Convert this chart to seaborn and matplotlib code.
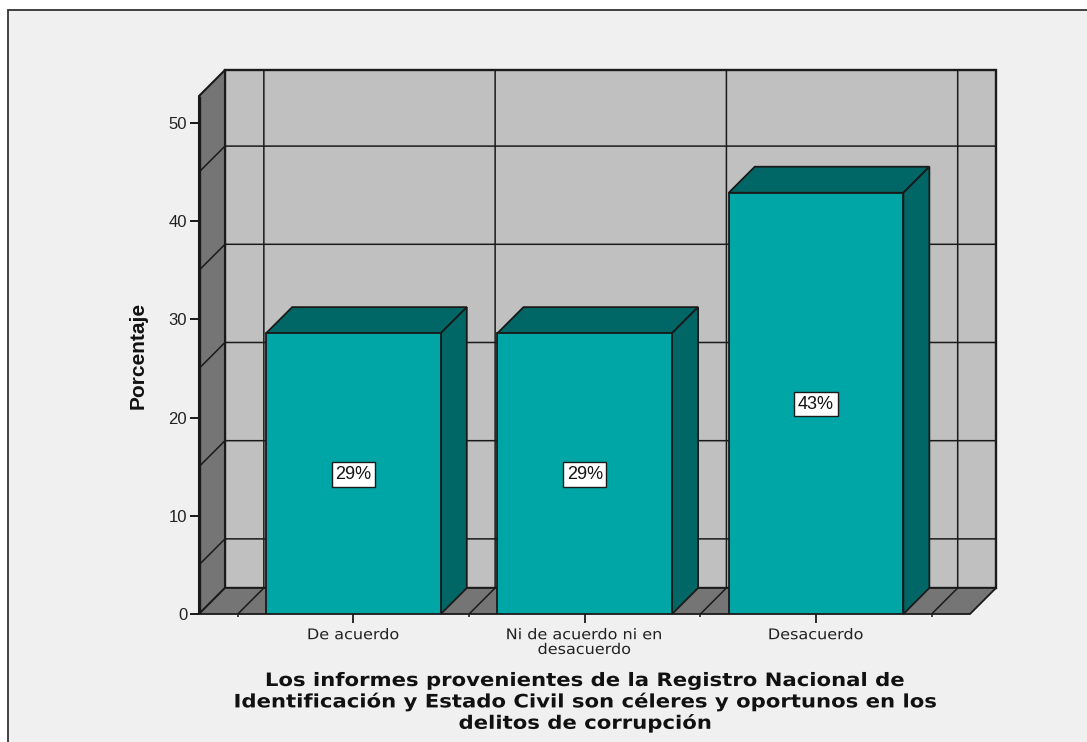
import pandas as pd
import matplotlib.pyplot as plt
import seaborn as sns
from matplotlib.patches import Polygon, Rectangle
from matplotlib.patheffects import AbstractPathEffect
from matplotlib.transforms import Affine2D

categorias = ["De acuerdo", "Ni de acuerdo ni en\ndesacuerdo", "Desacuerdo"]
porcentajes = [28.6, 28.6, 42.9]
y_ticks = [0, 10, 20, 30, 40, 50]
y_grid = [5, 15, 25, 35, 45]
x_grid = [-0.5, 0.5, 1.5, 2.5]
titulo_x = ("Los informes provenientes de la Registro Nacional de\n"
            "Identificación y Estado Civil son céleres y oportunos en los\n"
            "delitos de corrupción")

W, H = 1087, 742
FONDO = "#f0f0f0"
PARED = "#c0c0c0"
LADO = "#757575"
TEAL = "#00a5a5"
TEAL_OSCURO = "#006666"
LINEA = "#1a1a1a"

# fake 3D box, in data units
DX, DY = 0.1124, 2.65
X0, X1 = -0.668, 2.6656
TOPE = 52.75


class Stretch(AbstractPathEffect):
    # the reference text is wider than any installed font, so widen it around a centre
    def __init__(self, cx, sx):
        super().__init__()
        self.cx, self.sx = cx, sx

    def draw_path(self, renderer, gc, tpath, affine, rgbFace=None):
        wide = affine + Affine2D().translate(-self.cx, 0).scale(self.sx, 1).translate(self.cx, 0)
        renderer.draw_path(gc, tpath, wide, rgbFace)


def face(ax, pts, color, z, lw=1.3):
    ax.add_patch(Polygon(pts, closed=True, facecolor=color, edgecolor=LINEA,
                         linewidth=lw, zorder=z, clip_on=False))


def draw_box(ax):
    # back wall, left wall, floor
    face(ax, [(X0 + DX, DY), (X1 + DX, DY), (X1 + DX, TOPE + DY), (X0 + DX, TOPE + DY)], PARED, 0.1, lw=1.7)
    face(ax, [(X0, 0), (X0 + DX, DY), (X0 + DX, TOPE + DY), (X0, TOPE)], LADO, 0.2, lw=1.5)
    face(ax, [(X0, 0), (X1, 0), (X1 + DX, DY), (X0 + DX, DY)], LADO, 0.2)

    for v in y_grid:
        ax.plot([X0, X0 + DX, X1 + DX], [v, v + DY, v + DY], color=LINEA, lw=1.1, zorder=0.5)
    for c in x_grid:
        ax.plot([c, c + DX, c + DX], [0, DY, TOPE + DY], color=LINEA, lw=1.1, zorder=0.5)
    ax.plot([X0, X0], [0, TOPE], color=LINEA, lw=2.4, zorder=0.6, solid_capstyle="butt")


def draw_bar_sides(ax):
    for bar in list(ax.patches):
        x, w, h = bar.get_x(), bar.get_width(), bar.get_height()
        face(ax, [(x, h), (x + w, h), (x + w + DX, h + DY), (x + DX, h + DY)], TEAL_OSCURO, 1.5)
        face(ax, [(x + w, 0), (x + w + DX, DY), (x + w + DX, h + DY), (x + w, h)], TEAL_OSCURO, 1.5)


sns.set_style("white")
plt.rcParams["font.family"] = ["Liberation Sans", "DejaVu Sans"]

df = pd.DataFrame({"categoria": categorias, "porcentaje": porcentajes})

fig = plt.figure(figsize=(W / 100, H / 100), dpi=100, facecolor="white")
fig.add_artist(Rectangle((8 / W, -0.01), 1.1, (742 - 10) / H + 0.01, transform=fig.transFigure,
                         facecolor=FONDO, edgecolor="#333333", linewidth=1.3, zorder=-1))

ax = fig.add_axes([199 / W, (H - 614) / H, (996 - 199) / W, (614 - 70) / H])
ax.patch.set_alpha(0)

sns.barplot(data=df, x="categoria", y="porcentaje", color=TEAL, saturation=1, width=0.755,
            edgecolor=LINEA, linewidth=1.3, zorder=2, ax=ax)
draw_bar_sides(ax)
draw_box(ax)

ax.set_xlim(X0, X1 + DX)
ax.set_ylim(0, TOPE + DY)
sns.despine(ax=ax, left=True, bottom=True, top=True, right=True)

for i, v in enumerate(porcentajes):
    ax.text(i, v / 2 - 0.1, f"{v:.0f}%", ha="center", va="center", fontsize=13, color="#111111", zorder=3,
            fontfamily="Liberation Sans",
            bbox=dict(boxstyle="square,pad=0.2", facecolor="white", edgecolor=LINEA, linewidth=1))

ax.set_yticks(y_ticks)
ax.tick_params(axis="y", left=True, length=6.5, width=1.4, color=LINEA, labelsize=12, pad=2,
               labelcolor="#222222")
ax.set_xticks(range(len(categorias)))
ax.set_xticklabels(categorias, fontfamily="DejaVu Sans", fontsize=10.6, color="#222222", linespacing=0.98)
ax.tick_params(axis="x", bottom=True, length=6.5, width=1.3, color=LINEA, pad=3)
ax.set_xticks(x_grid, minor=True)
ax.tick_params(axis="x", which="minor", bottom=True, length=2.5, width=1.1, color=LINEA)
for i, label in enumerate(ax.get_xticklabels()):
    label.set_path_effects([Stretch(ax.transData.transform((i, 0))[0], 1.09)])

ax.set_ylabel("Porcentaje", fontsize=15, fontweight="bold", color="#111111", fontfamily="Liberation Sans")
ax.yaxis.set_label_coords((148 - 199) / (996 - 199), (614 - 355) / (614 - 70))
ax.set_xlabel(titulo_x, fontfamily="DejaVu Sans", fontsize=13.3, fontweight="bold",
              color="#111111", linespacing=1.2, va="top")
ax.xaxis.set_label_coords((585 - 199) / (996 - 199), -(672 - 614) / (614 - 70))
ax.xaxis.label.set_path_effects([Stretch(585, 1.147)])

fig.savefig("out.png", dpi=100, facecolor="white")
